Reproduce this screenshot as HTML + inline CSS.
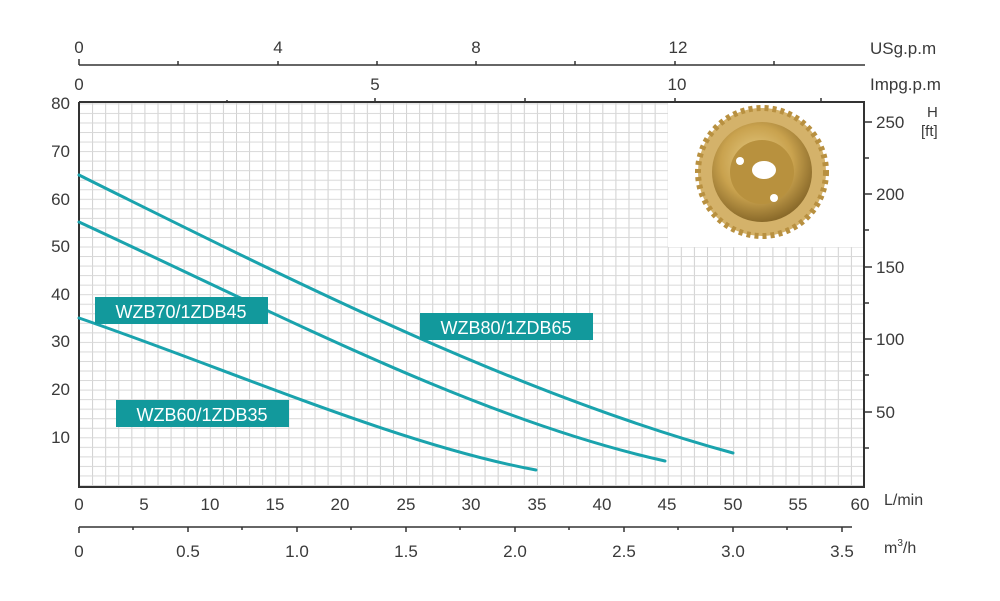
<!DOCTYPE html>
<html><head><meta charset="utf-8"><style>
body{margin:0;background:#fff;}
svg text{font-family:"Liberation Sans",sans-serif;fill:#3a3a3a;}
</style></head><body>
<svg width="1000" height="596" viewBox="0 0 1000 596" xmlns="http://www.w3.org/2000/svg">
<defs>
<pattern id="gv" x="79" y="0" width="13.083" height="10" patternUnits="userSpaceOnUse">
<line x1="0.5" y1="0" x2="0.5" y2="10" stroke="#d0d0d0" stroke-width="1"/>
</pattern>
<pattern id="gh" x="0" y="485" width="10" height="9.54" patternUnits="userSpaceOnUse">
<line x1="0" y1="0.5" x2="10" y2="0.5" stroke="#d8d8d8" stroke-width="1"/>
</pattern>
<radialGradient id="gold" cx="45%" cy="40%" r="60%">
<stop offset="0" stop-color="#e8cf8a"/><stop offset="0.6" stop-color="#c9a24e"/><stop offset="1" stop-color="#8a6a2a"/>
</radialGradient>
</defs>
<rect x="79" y="102" width="785" height="385" fill="url(#gv)"/>
<rect x="79" y="102" width="785" height="385" fill="url(#gh)"/>
<rect x="668" y="103" width="195" height="144" fill="#fff"/>
<g transform="translate(762,172)">
<circle r="64" fill="#d4b26a"/>
<circle r="64" fill="none" stroke="#b89040" stroke-width="6" stroke-dasharray="4 4"/>
<circle r="50" fill="url(#gold)"/>
<circle r="32" fill="#b8913e"/>
<ellipse cx="2" cy="-2" rx="12" ry="9" fill="#fff"/>
<circle cx="-22" cy="-11" r="4" fill="#fff"/>
<circle cx="12" cy="26" r="4" fill="#fff"/>
</g>
<path d="M79 102 V487 H864 V102 H79" fill="none" stroke="#333" stroke-width="2"/>
<line x1="79" y1="65" x2="865" y2="65" stroke="#333" stroke-width="1.5"/>
<g stroke="#333" stroke-width="1.5">
<line x1="79" y1="59" x2="79" y2="65"/><line x1="178" y1="61" x2="178" y2="65"/><line x1="278" y1="61" x2="278" y2="65"/><line x1="377" y1="61" x2="377" y2="65"/><line x1="476" y1="61" x2="476" y2="65"/><line x1="575" y1="61" x2="575" y2="65"/><line x1="675" y1="61" x2="675" y2="65"/><line x1="774" y1="61" x2="774" y2="65"/>
<line x1="227" y1="100" x2="227" y2="102"/><line x1="375" y1="98" x2="375" y2="102"/><line x1="525" y1="98" x2="525" y2="102"/><line x1="675" y1="98" x2="675" y2="102"/><line x1="821" y1="98" x2="821" y2="102"/>
</g>
<g font-size="17" text-anchor="middle">
<text x="79" y="53">0</text><text x="278" y="53">4</text><text x="476" y="53">8</text><text x="678" y="53">12</text>
<text x="79" y="90">0</text><text x="375" y="90">5</text><text x="677" y="90">10</text>
</g>
<text x="870" y="54" font-size="17">USg.p.m</text>
<text x="870" y="90" font-size="17">Impg.p.m</text>
<g font-size="17" text-anchor="end">
<text x="70" y="109">80</text><text x="70" y="157">70</text><text x="70" y="205">60</text><text x="70" y="252">50</text><text x="70" y="300">40</text><text x="70" y="347">30</text><text x="70" y="395">20</text><text x="70" y="443">10</text>
</g>
<g stroke="#333" stroke-width="1.5">
<line x1="864" y1="122" x2="872" y2="122"/><line x1="864" y1="194" x2="872" y2="194"/><line x1="864" y1="267" x2="872" y2="267"/><line x1="864" y1="339" x2="872" y2="339"/><line x1="864" y1="412" x2="872" y2="412"/>
<line x1="864" y1="158" x2="869" y2="158"/><line x1="864" y1="230" x2="869" y2="230"/><line x1="864" y1="303" x2="869" y2="303"/><line x1="864" y1="375" x2="869" y2="375"/><line x1="864" y1="448" x2="869" y2="448"/>
</g>
<g font-size="17">
<text x="876" y="128">250</text><text x="876" y="200">200</text><text x="876" y="273">150</text><text x="876" y="345">100</text><text x="876" y="418">50</text>
<text x="927" y="117" font-size="15">H</text><text x="921" y="136" font-size="15">[ft]</text>
</g>
<g font-size="17" text-anchor="middle">
<text x="79" y="510">0</text><text x="144" y="510">5</text><text x="210" y="510">10</text><text x="275" y="510">15</text><text x="340" y="510">20</text><text x="406" y="510">25</text><text x="471" y="510">30</text><text x="537" y="510">35</text><text x="602" y="510">40</text><text x="667" y="510">45</text><text x="733" y="510">50</text><text x="798" y="510">55</text><text x="860" y="510">60</text>
</g>
<text x="884" y="505" font-size="16">L/min</text>
<line x1="79" y1="527" x2="852" y2="527" stroke="#333" stroke-width="1.5"/>
<g stroke="#333" stroke-width="1.5">
<line x1="79" y1="527" x2="79" y2="533"/><line x1="133" y1="527" x2="133" y2="530"/><line x1="188" y1="527" x2="188" y2="532"/><line x1="242" y1="527" x2="242" y2="530"/><line x1="297" y1="527" x2="297" y2="532"/><line x1="351" y1="527" x2="351" y2="530"/><line x1="406" y1="527" x2="406" y2="532"/><line x1="460" y1="527" x2="460" y2="530"/><line x1="515" y1="527" x2="515" y2="532"/><line x1="569" y1="527" x2="569" y2="530"/><line x1="624" y1="527" x2="624" y2="532"/><line x1="678" y1="527" x2="678" y2="530"/><line x1="733" y1="527" x2="733" y2="532"/><line x1="787" y1="527" x2="787" y2="530"/><line x1="842" y1="527" x2="842" y2="532"/>
</g>
<g font-size="17" text-anchor="middle">
<text x="79" y="557">0</text><text x="188" y="557">0.5</text><text x="297" y="557">1.0</text><text x="406" y="557">1.5</text><text x="515" y="557">2.0</text><text x="624" y="557">2.5</text><text x="733" y="557">3.0</text><text x="842" y="557">3.5</text>
</g>
<text x="884" y="553" font-size="16">m<tspan font-size="10" dy="-7">3</tspan><tspan dy="7">/h</tspan></text>
<g fill="none" stroke="#1aa3ad" stroke-width="3" stroke-linecap="round">
<path d="M79 175 C300 285 520 395 733 453"/>
<path d="M79 222 C280 315 480 420 665 461"/>
<path d="M79 318 C230 370 400 445 536 470"/>
</g>
<rect x="95" y="297" width="173" height="27" fill="#12999c"/>
<text x="181" y="318" font-size="18" text-anchor="middle" style="fill:#fff">WZB70/1ZDB45</text>
<rect x="420" y="313" width="173" height="27" fill="#12999c"/>
<text x="506" y="334" font-size="18" text-anchor="middle" style="fill:#fff">WZB80/1ZDB65</text>
<rect x="116" y="400" width="173" height="27" fill="#12999c"/>
<text x="202" y="421" font-size="18" text-anchor="middle" style="fill:#fff">WZB60/1ZDB35</text>
</svg>
</body></html>
